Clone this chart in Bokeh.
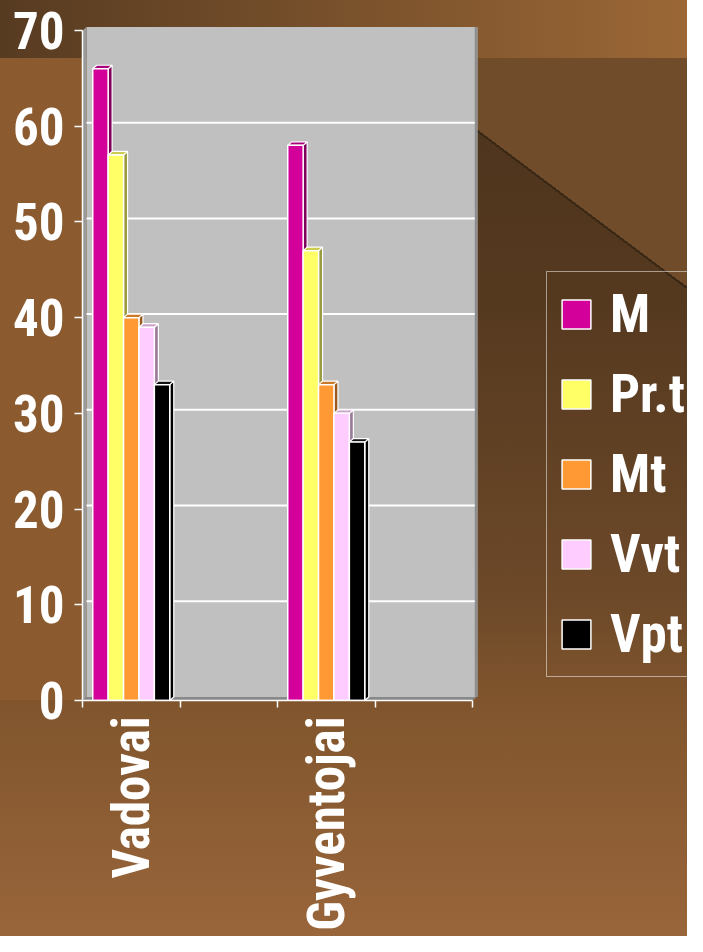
import math
from bokeh.plotting import figure
from bokeh.models import FixedTicker, Range1d, Legend, LegendItem
from bokeh.embed import file_html
from bokeh.resources import INLINE

# ---- data ----
slot_labels = ["Vadovai", "", "Gyventojai", ""]
categories = ["Vadovai", "Gyventojai"]
series = ["M", "Pr.t", "Mt", "Vvt", "Vpt"]
M = [66, 58]
Prt = [57, 47]
Mt = [40, 33]
Vvt = [39, 30]
Vpt = [33, 27]
y_ticks = [0, 10, 20, 30, 40, 50, 60, 70]

values = [M, Prt, Mt, Vvt, Vpt]
colors = ["#D4009A", "#FFFF66", "#FF9933", "#FFCCFF", "#000000"]
side_colors = ["#7E005C", "#99993D", "#99591F", "#997A99", "#000000"]
top_colors = ["#A8007A", "#CCCC52", "#CC7A29", "#CCA3CC", "#111111"]

FONT = "'Noto Sans Condensed', 'Noto Sans ExtraCondensed', 'Roboto Condensed', 'Open Sans Condensed', 'Liberation Sans'"

background = ", ".join([
    "linear-gradient(to right, #573b21, #9b6736) 0 0 / 100% 58px no-repeat",
    "linear-gradient(#8b5a2f, #8b5a2f) 0 58px / 476px 642px no-repeat",
    "linear-gradient(to bottom left, #714c2a 49.7%, #3b2916 49.7%, #3b2916 50.3%, rgba(0,0,0,0) 50.3%) 380px 58px / 307px 230px no-repeat",
    "linear-gradient(to bottom, #4c331d 0px, #4c331d 58px, #55391f 300px, #6d4929 600px, #80552d 700px, #99653a 936px)",
])

ppu = 97.5            # pixels per category slot
wall_end = 4.051
x_end = 605 / ppu
y_end = 70.42
dx, dy = 0.041, 0.37
bw = 0.158

p = figure(width=687, height=936, output_backend="svg", toolbar_location=None,
           x_range=Range1d(0, x_end), y_range=Range1d(0, y_end),
           min_border_left=82, min_border_top=26, min_border_right=0, min_border_bottom=236,
           border_fill_color=None, background_fill_color=None, outline_line_color=None,
           styles={"background": background})

p.xgrid.visible = False
p.ygrid.visible = False

# walls
p.quad(left=dx, right=wall_end, bottom=dy, top=70 + dy, fill_color="#C0C0C0", line_color=None)
p.quad(left=wall_end - 0.028, right=wall_end, bottom=dy, top=70 + dy, fill_color="#8E8E8E", line_color=None)
p.patch([0, dx, dx, 0], [0, dy, 70 + dy, 70], fill_color="#9A9A9A", line_color=None)
p.patch([0, 4, 4 + dx, dx], [0, 0, dy, dy], fill_color="#888888", line_color=None)
grid_y = [t + dy for t in y_ticks[1:-1]]
p.segment(x0=[dx] * len(grid_y), x1=[wall_end - 0.028] * len(grid_y), y0=grid_y, y1=grid_y,
          line_color="white", line_width=2)

centers = [slot_labels.index(c) + 0.5 for c in categories]
items = []
for i, (name, vals) in enumerate(zip(series, values)):
    left = [c - 2.5 * bw + i * bw for c in centers]
    right = [l + bw for l in left]
    side_xs = [[r, r + dx, r + dx, r] for r in right]
    side_ys = [[0, dy, v + dy, v] for v in vals]
    top_xs = [[l, r, r + dx, l + dx] for l, r in zip(left, right)]
    top_ys = [[v, v, v + dy, v + dy] for v in vals]
    p.patches(side_xs, side_ys, fill_color=side_colors[i], line_color="white", line_width=1.2)
    p.patches(top_xs, top_ys, fill_color=top_colors[i], line_color="white", line_width=1.2)
    r = p.quad(left=left, right=right, bottom=0, top=vals, fill_color=colors[i],
               line_color="white", line_width=1.5)
    items.append(LegendItem(label=name, renderers=[r]))

# y axis
ya = p.yaxis[0]
ya.ticker = FixedTicker(ticks=y_ticks)
ya.bounds = (0, 70)
ya.axis_line_color = "white"
ya.axis_line_width = 1.5
ya.major_tick_line_color = "white"
ya.major_tick_line_width = 1.5
ya.major_tick_out = 8
ya.major_tick_in = 0
ya.minor_tick_line_color = None
ya.major_label_text_font = FONT
ya.major_label_text_font_size = "51px"
ya.major_label_text_font_style = "bold"
ya.major_label_text_color = "white"
ya.major_label_standoff = 10

# x axis
xa = p.xaxis[0]
xa.ticker = FixedTicker(ticks=[i + 0.5 for i in range(len(slot_labels))],
                        minor_ticks=list(range(len(slot_labels) + 1)))
xa.major_label_overrides = {i + 0.5: lab for i, lab in enumerate(slot_labels)}
xa.bounds = (0, len(slot_labels))
xa.axis_line_color = "white"
xa.axis_line_width = 1.5
xa.major_tick_line_color = None
xa.minor_tick_line_color = "white"
xa.minor_tick_line_width = 1.5
xa.minor_tick_out = 7
xa.minor_tick_in = 0
xa.major_label_orientation = math.pi / 2
xa.major_label_text_font = FONT
xa.major_label_text_font_size = "51px"
xa.major_label_text_font_style = "bold"
xa.major_label_text_color = "white"
xa.major_label_standoff = 9

legend = Legend(items=items, location=(464, 23), margin=0, padding=11, spacing=18,
                glyph_width=36, glyph_height=36, label_standoff=16,
                label_text_font=FONT, label_text_font_size="53px", label_text_font_style="bold",
                label_text_color="white", border_line_color="white", border_line_width=1.5,
                background_fill_alpha=0)
p.add_layout(legend, "center")

open("out.html", "w").write(file_html(p, INLINE))
